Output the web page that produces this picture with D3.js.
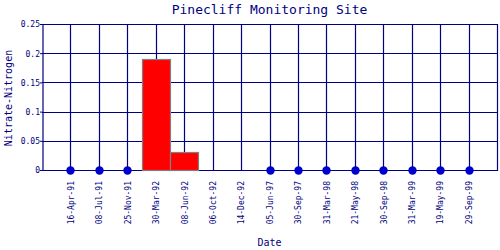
<!DOCTYPE html>
<html>
<head>
<meta charset="utf-8">
<script src="https://cdn.jsdelivr.net/npm/d3@7"></script>
<style>
  body { margin: 0; background: #fff; }
  text { font-family: "DejaVu Sans Mono", "Liberation Mono", monospace; fill: #000080; }
</style>
</head>
<body>
<svg id="chart" width="500" height="250"></svg>
<script>
// chart data
var sampleDates = ["16-Apr-91", "08-Jul-91", "25-Nov-91", "30-Mar-92", "08-Jun-92", "06-Oct-92",
    "14-Dec-92", "05-Jun-97", "30-Sep-97", "31-Mar-98", "21-May-98", "30-Sep-98",
    "31-Mar-99", "19-May-99", "29-Sep-99"];
var nitrateValues = [0, 0, 0, 0.19, 0.03, 0, 0, 0, 0, 0, 0, 0, 0, 0, 0];
// samples flagged with a dot (below detection)
var nonDetect = [1, 1, 1, 0, 0, 0, 0, 1, 1, 1, 1, 1, 1, 1, 1];
var yTicks = [0, 0.05, 0.1, 0.15, 0.2, 0.25];

var titleStr = "Pinecliff Monitoring Site";
var yAxisTitle = "Nitrate-Nitrogen";
var xAxisTitle = "Date";

//svg chart variables
var margin = {top: 24, right: 3, bottom: 80, left: 42};
var width = 500 - margin.left - margin.right;
var height = 250 - margin.top - margin.bottom;
var navy = "#000080";

var x = d3.scalePoint()
    .domain(sampleDates)
    .range([0, width])
    .padding(1);
var y = d3.scaleLinear()
    .domain([0, 0.25])
    .range([height, 0]);
var step = x.step();

var chart = d3.select("#chart");
var g = chart.append("g")
    .attr("transform", "translate(" + margin.left + "," + margin.top + ")");

// horizontal gridlines
g.append("g")
    .selectAll("line")
    .data(yTicks)
    .enter()
    .append("line")
    .attr("x1", 0)
    .attr("x2", width)
    .attr("y1", function (d) { return Math.round(y(d)) + 0.5; })
    .attr("y2", function (d) { return Math.round(y(d)) + 0.5; })
    .style("stroke", navy)
    .style("stroke-width", 1.2);

// vertical gridlines
g.append("g")
    .selectAll("line")
    .data(sampleDates)
    .enter()
    .append("line")
    .attr("x1", function (d) { return Math.round(x(d)) + 0.5; })
    .attr("x2", function (d) { return Math.round(x(d)) + 0.5; })
    .attr("y1", 0)
    .attr("y2", height)
    .style("stroke", navy)
    .style("stroke-width", 1.2);

// bars (zero values show as a flat grey line)
g.append("g")
    .selectAll("rect")
    .data(nitrateValues)
    .enter()
    .append("rect")
    .attr("x", function (d, i) { return Math.round(x(sampleDates[i]) - step / 2) + 0.5; })
    .attr("y", function (d) { return Math.round(y(d)) + 0.5; })
    .attr("width", Math.round(step))
    .attr("height", function (d) { return Math.round(height - y(d)); })
    .style("fill", "#ff0000")
    .style("stroke", "#808080")
    .style("stroke-width", 1.2);

// dots for flagged samples
g.append("g")
    .selectAll("circle")
    .data(sampleDates.filter(function (d, i) { return nonDetect[i] === 1; }))
    .enter()
    .append("circle")
    .attr("cx", function (d) { return Math.round(x(d)) + 0.5; })
    .attr("cy", function (d) { return y(nitrateValues[sampleDates.indexOf(d)]) + 0.5; })
    .attr("r", 4.2)
    .style("fill", "#0000cc");

// frame top and right
g.append("path")
    .attr("d", "M0.5,0.5H" + (width + 0.5) + "V" + (height + 0.5) + "H" + (width - step / 2))
    .style("fill", "none")
    .style("stroke", navy)
    .style("stroke-width", 1.2);

// y axis
var yAxis = g.append("g")
    .call(d3.axisLeft(y)
        .tickValues(yTicks)
        .tickSize(2)
        .tickFormat(function (d) { return String(+d.toFixed(2)); }));
yAxis.select(".domain").attr("transform", "translate(0.5,0)").style("stroke", navy).style("stroke-width", 1.2);
yAxis.selectAll(".tick line").style("stroke", navy);
yAxis.selectAll("text")
    .style("font-size", "8px")
    .style("fill", navy)
    .attr("x", -2)
    .attr("dy", "0.35em");

// x axis labels
var xAxis = g.append("g")
    .attr("transform", "translate(0," + height + ")")
    .call(d3.axisBottom(x).tickSize(0));
xAxis.select(".domain").remove();
xAxis.selectAll("text")
    .style("font-size", "8px")
    .style("fill", navy)
    .style("text-anchor", "end")
    .attr("transform", "rotate(-90)")
    .attr("x", -11)
    .attr("y", 0)
    .attr("dy", "0.35em");

// titles
chart.append("text")
    .attr("x", margin.left + width / 2)
    .attr("y", 14)
    .attr("text-anchor", "middle")
    .style("font-size", "13px")
    .text(titleStr);

chart.append("text")
    .attr("transform", "translate(12," + (margin.top + height / 2 + 1) + ")rotate(-90)")
    .attr("text-anchor", "middle")
    .style("font-size", "10px")
    .text(yAxisTitle);

chart.append("text")
    .attr("x", margin.left + width / 2)
    .attr("y", 246)
    .attr("text-anchor", "middle")
    .style("font-size", "10px")
    .text(xAxisTitle);
</script>
</body>
</html>
